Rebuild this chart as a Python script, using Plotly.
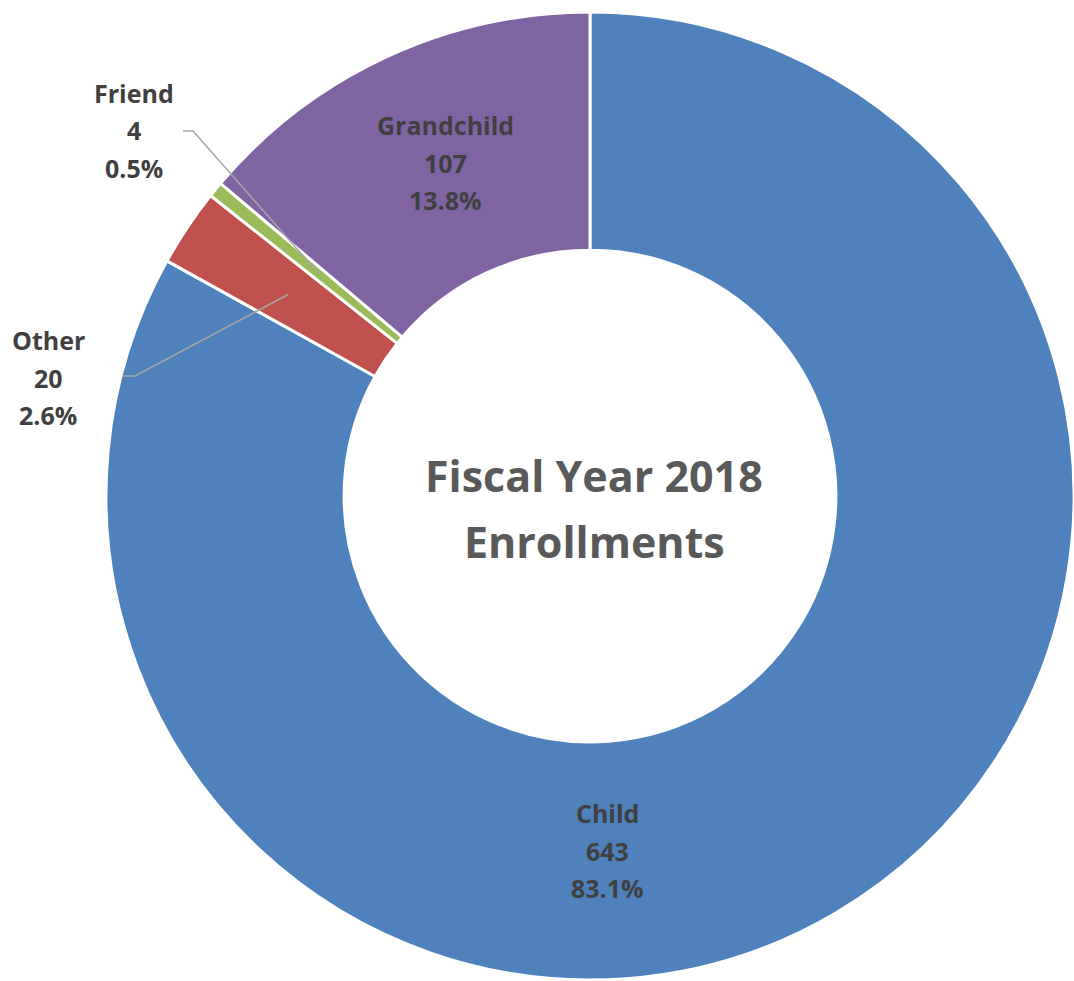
import math
import plotly.graph_objects as go

# ---- data ----
labels = ["Child", "Other", "Friend", "Grandchild"]
values = [643, 20, 4, 107]
colors = ["#4F81BD", "#C0504D", "#9BBB59", "#8064A2"]
center_title = ["Fiscal Year 2018", "Enrollments"]

W, H = 1074, 981
total = sum(values)
pcts = [v / total * 100 for v in values]


def px2paper(px, py):
    return px / W, 1 - py / H


# pie placement (page pixels)
left_px = 106
R_px = (W - left_px) / 2
cx_px = left_px + R_px
cy_px = 496
dom_x = [left_px / W, 1.0]
dom_y = [max(0.0, 1 - (cy_px + R_px) / H), min(1.0, 1 - (cy_px - R_px) / H)]

fig = go.Figure(go.Pie(
    labels=labels, values=values, sort=False, direction="clockwise", rotation=0,
    hole=0.508, marker=dict(colors=colors, line=dict(color="white", width=3)),
    textinfo="none", hoverinfo="label+value+percent", showlegend=False,
    domain=dict(x=dom_x, y=dom_y),
))

LBL = dict(family="Open Sans", size=25, color="#404040", weight="bold")
TTL = dict(family="Open Sans", size=43, color="#595959", weight="bold")

# label placement (page pixel position of first line) and line spacing
label_pos = {"Child": (607, 813), "Grandchild": (445, 125), "Friend": (134, 93), "Other": (48, 340)}
spacing = 37.5
annotations = []
for lab, v, p in zip(labels, values, pcts):
    lx, ly = label_pos[lab]
    for i, line in enumerate([lab, f"{v}", f"{p:.1f}%"]):
        ax, ay = px2paper(lx, ly + i * spacing)
        annotations.append(dict(x=ax, y=ay, xref="paper", yref="paper", text=line,
                                showarrow=False, font=LBL, xanchor="center", yanchor="middle"))

for i, line in enumerate(center_title):
    ax, ay = px2paper(594, 476 + i * 65)
    annotations.append(dict(x=ax, y=ay, xref="paper", yref="paper", text=line,
                            showarrow=False, font=TTL, xanchor="center", yanchor="middle"))

# leader lines for small outside slices, ending inside the slice at its mid-angle
cum = 0
mid = {}
for lab, v in zip(labels, values):
    mid[lab] = (cum + v / 2) / total * 2 * math.pi
    cum += v
leader = {"Friend": ((183, 131), (193, 131), 0.72), "Other": ((123, 376), (135, 376), 0.75)}
shapes = []
for lab, (p0, p1, rf) in leader.items():
    th = mid[lab]
    ex = cx_px + rf * R_px * math.sin(th)
    ey = cy_px - rf * R_px * math.cos(th)
    pts = [px2paper(*p0), px2paper(*p1), px2paper(ex, ey)]
    path = "M {} {} L {} {} L {} {}".format(*[c for pt in pts for c in pt])
    shapes.append(dict(type="path", path=path, xref="paper", yref="paper",
                       line=dict(color="#A6A6A6", width=1.5)))

fig.update_layout(width=W, height=H, margin=dict(l=0, r=0, t=0, b=0),
                  paper_bgcolor="white", plot_bgcolor="white",
                  annotations=annotations, shapes=shapes)
fig.write_html("out.html", config={"displayModeBar": False},
               post_script="document.body.style.margin='0px';")
